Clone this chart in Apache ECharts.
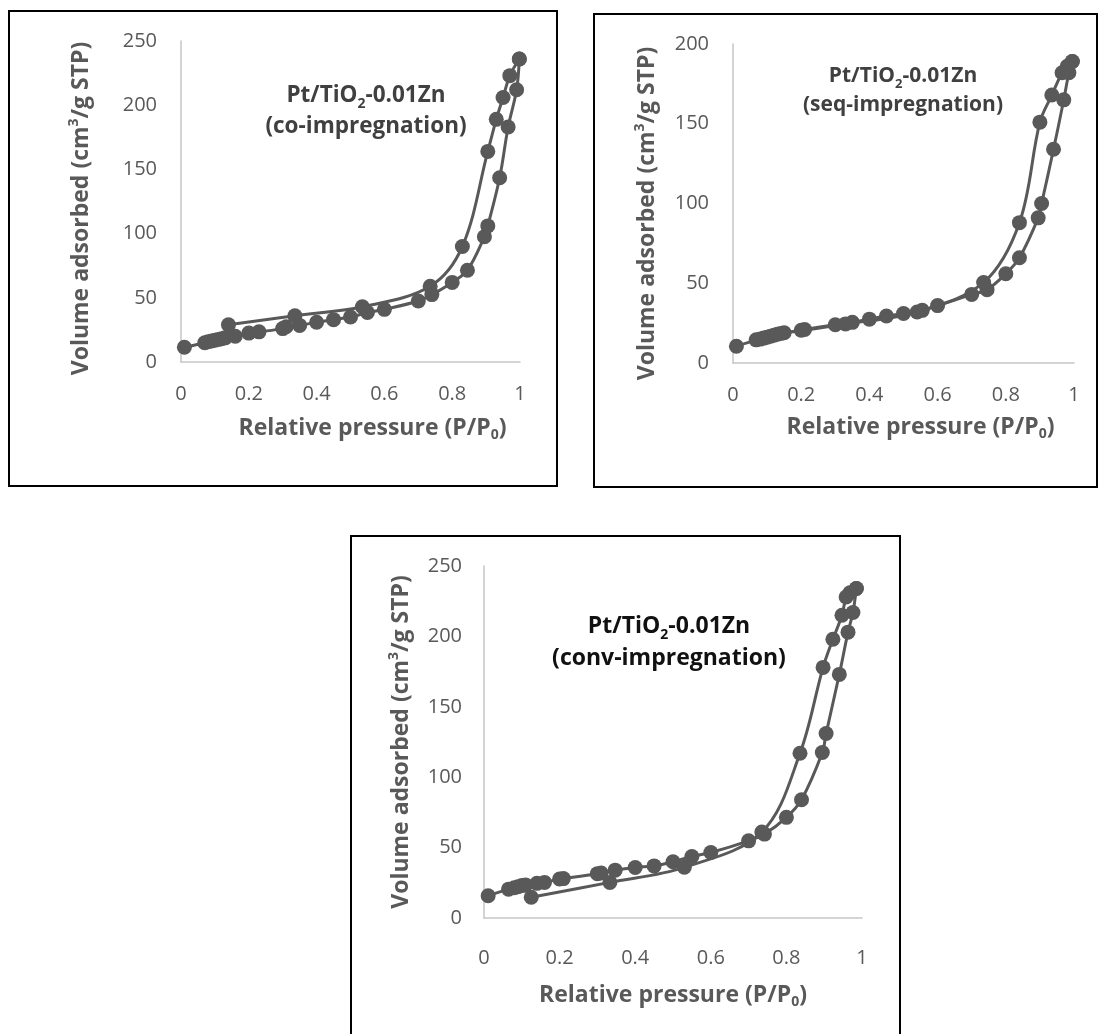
<!DOCTYPE html>
<html>
<head>
<meta charset="utf-8">
<title>N2 physisorption isotherms</title>
<script src="https://cdn.jsdelivr.net/npm/echarts@6/dist/echarts.min.js"></script>
<style>
  html, body { margin: 0; padding: 0; background: #ffffff; }
  #chart { width: 1102px; height: 1034px; }
</style>
</head>
<body>
<div id="chart"></div>
<script>
// Tick labels
const xTickLabels = ['0', '0.2', '0.4', '0.6', '0.8', '1'];
const yTickLabels250 = ['0', '50', '100', '150', '200', '250'];
const yTickLabels200 = ['0', '50', '100', '150', '200'];

// Pt/TiO2-0.01Zn (co-impregnation): adsorption and desorption branches
const coAdsP = [0.01, 0.07, 0.08, 0.09, 0.10, 0.11, 0.12, 0.13, 0.16, 0.20, 0.23, 0.30, 0.31, 0.35, 0.40, 0.45, 0.50, 0.55, 0.60, 0.70, 0.74, 0.80, 0.845, 0.895, 0.905, 0.94, 0.965, 0.99, 0.998];
const coAdsV = [11.5, 15, 15.8, 16.4, 17, 17.6, 18.2, 18.8, 20, 22.5, 23.5, 26, 27.5, 28.5, 31, 33, 35, 38.5, 41, 47.5, 52.5, 62, 71.5, 97.5, 106, 143.5, 183, 212, 236];
const coDesP = [0.998, 0.97, 0.95, 0.93, 0.905, 0.83, 0.735, 0.535, 0.336, 0.14];
const coDesV = [236, 223, 206, 189, 164, 90, 59, 43, 36, 29];

// Pt/TiO2-0.01Zn (seq-impregnation)
const seqAdsP = [0.01, 0.068, 0.08, 0.09, 0.10, 0.11, 0.12, 0.13, 0.15, 0.20, 0.21, 0.30, 0.35, 0.40, 0.45, 0.50, 0.555, 0.60, 0.70, 0.745, 0.80, 0.84, 0.895, 0.905, 0.94, 0.97, 0.985, 0.995];
const seqAdsV = [10.5, 14.5, 15, 15.6, 16.2, 16.8, 17.4, 18, 19, 20.5, 21, 24, 25.5, 27.5, 29.5, 31, 33, 36, 43, 46, 56, 66, 91, 100, 134, 165, 182, 189];
const seqDesP = [0.995, 0.98, 0.965, 0.935, 0.90, 0.84, 0.735, 0.54, 0.33, 0.14];
const seqDesV = [189, 186, 182, 168, 151, 88, 50.5, 32, 24.5, 18.5];

// Pt/TiO2-0.01Zn (conv-impregnation)
const convAdsP = [0.011, 0.065, 0.08, 0.09, 0.10, 0.11, 0.14, 0.16, 0.20, 0.21, 0.30, 0.31, 0.347, 0.40, 0.45, 0.50, 0.55, 0.60, 0.70, 0.742, 0.80, 0.84, 0.895, 0.905, 0.94, 0.963, 0.976, 0.985];
const convAdsV = [15.8, 20.5, 21.5, 22.2, 23, 23.5, 24.6, 25.3, 27.7, 28, 31.5, 32, 34, 35.9, 37, 40, 43.7, 46.5, 54.8, 59.6, 71.5, 84, 117.5, 131, 173, 203, 217, 234];
const convDesP = [0.985, 0.968, 0.958, 0.947, 0.923, 0.897, 0.836, 0.735, 0.53, 0.333, 0.125];
const convDesV = [234, 231, 228, 215, 198, 178, 117, 61, 36, 25.3, 14.7];

const FONT = '"Open Sans", Lato, sans-serif';
const GREY = '#595959';
const MARK = '#595959';

const pairs = (xs, ys) => xs.map((x, i) => [x, ys[i]]);

function xAxisFor(gridIndex, labelMargin, nameGap, shift) {
  return {
    type: 'value', gridIndex, min: 0, max: 1, interval: 0.2,
    axisLine: { show: true, onZero: false, lineStyle: { color: '#c6c6c6', width: 1.5 } },
    axisTick: { show: false },
    splitLine: { show: false },
    axisLabel: {
      margin: labelMargin, color: GREY, fontSize: 20, fontFamily: FONT,
      formatter: v => xTickLabels[Math.round(v / 0.2)]
    },
    name: '{b|Relative pressure (P/P}{s|0}{b|)}',
    nameLocation: 'middle', nameGap,
    nameTextStyle: {
      padding: [0, 0, 0, shift * 2],
      rich: {
        b: { fontSize: 23, fontWeight: 'bold', color: GREY, fontFamily: FONT, lineHeight: 28 },
        s: { fontSize: 14, fontWeight: 'bold', color: GREY, fontFamily: FONT, lineHeight: 14, verticalAlign: 'bottom' }
      }
    }
  };
}

function yAxisFor(gridIndex, max, labels, labelMargin, nameGap, shift) {
  return {
    type: 'value', gridIndex, min: 0, max, interval: 50,
    axisLine: { show: true, lineStyle: { color: '#c6c6c6', width: 1.5 } },
    axisTick: { show: false },
    splitLine: { show: false },
    axisLabel: {
      margin: labelMargin, color: GREY, fontSize: 20, fontFamily: FONT,
      formatter: v => labels[Math.round(v / 50)]
    },
    name: '{b|Volume adsorbed (cm}{p|3}{b|/g STP)}',
    nameLocation: 'middle', nameGap, nameRotate: 90,
    nameTextStyle: {
      padding: [0, shift * 2, 0, 0],
      rich: {
        b: { fontSize: 23, fontWeight: 'bold', color: GREY, fontFamily: FONT, lineHeight: 28 },
        p: { fontSize: 14, fontWeight: 'bold', color: GREY, fontFamily: FONT, lineHeight: 14, verticalAlign: 'top' }
      }
    }
  };
}

function branch(name, xs, ys, idx) {
  return {
    type: 'line', name, xAxisIndex: idx, yAxisIndex: idx,
    data: pairs(xs, ys),
    smooth: 0.35,
    symbol: 'circle', symbolSize: 15,
    itemStyle: { color: MARK },
    lineStyle: { color: MARK, width: 3 },
    z: 3
  };
}

function note(x, y, method, fontSize, color) {
  return {
    type: 'text', x, y, z: 10,
    style: {
      text: '{a|Pt/TiO}{s|2}{a|-0.01Zn}\n{a|(' + method + ')}',
      align: 'center', verticalAlign: 'middle',
      rich: {
        a: { fontSize, fontWeight: 'bold', fill: color, fontFamily: FONT, lineHeight: Math.round(fontSize * 1.38) },
        s: { fontSize: Math.round(fontSize * 0.62), fontWeight: 'bold', fill: color, fontFamily: FONT,
             lineHeight: Math.round(fontSize * 0.62), verticalAlign: 'bottom' }
      }
    }
  };
}

function frame(x, y, w, h) {
  return { type: 'rect', shape: { x, y, width: w, height: h }, z: 0,
           style: { fill: 'none', stroke: '#000000', lineWidth: 2 } };
}

const chart = echarts.init(document.getElementById('chart'), null, { renderer: 'canvas' });
chart.setOption({
  animation: false,
  backgroundColor: '#ffffff',
  grid: [
    { left: 181, top: 41, width: 339, height: 321 },
    { left: 733, top: 44, width: 341, height: 319 },
    { left: 484, top: 566, width: 378, height: 352 }
  ],
  xAxis: [
    xAxisFor(0, 22, 52, 22),
    xAxisFor(1, 22, 50, 17),
    xAxisFor(2, 30, 63, 0)
  ],
  yAxis: [
    yAxisFor(0, 250, yTickLabels250, 24, 86, 7),
    yAxisFor(1, 200, yTickLabels200, 24, 72, 10),
    yAxisFor(2, 250, yTickLabels250, 22, 69, 0)
  ],
  series: [
    branch('co adsorption', coAdsP, coAdsV, 0),
    branch('co desorption', coDesP, coDesV, 0),
    branch('seq adsorption', seqAdsP, seqAdsV, 1),
    branch('seq desorption', seqDesP, seqDesV, 1),
    branch('conv adsorption', convAdsP, convAdsV, 2),
    branch('conv desorption', convDesP, convDesV, 2)
  ],
  graphic: [
    frame(9, 11, 548, 475),
    frame(594, 14, 503, 473),
    frame(351, 536, 549, 510),
    note(366, 111, 'co-impregnation', 22.5, '#404040'),
    note(903, 91, 'seq-impregnation', 21, '#404040'),
    note(669, 642, 'conv-impregnation', 23, '#111111')
  ]
});
</script>
</body>
</html>
